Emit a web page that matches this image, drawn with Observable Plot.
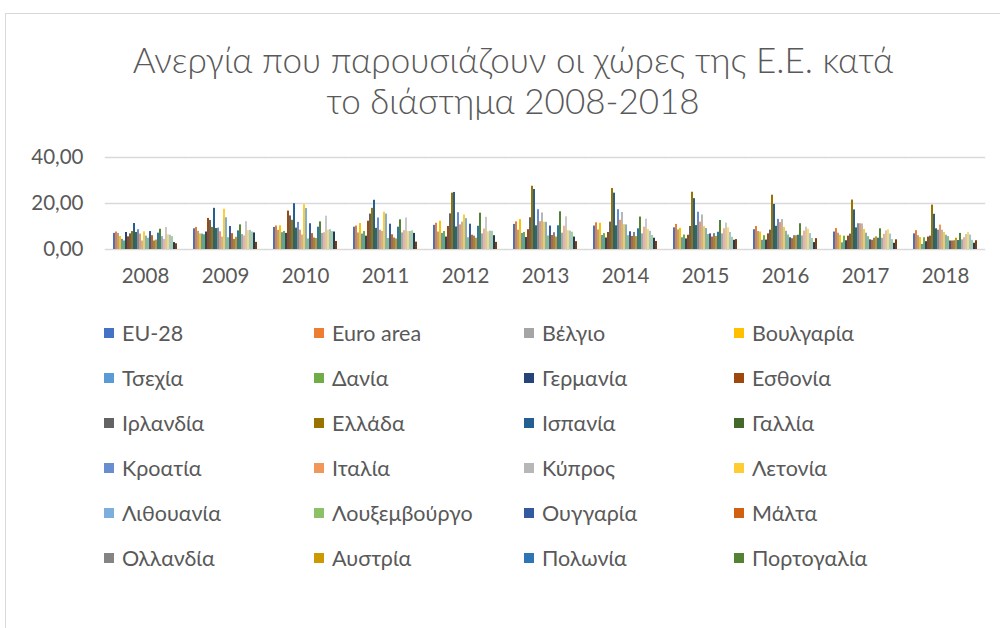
<!DOCTYPE html>
<html>
<head>
<meta charset="utf-8">
<script src="https://cdn.jsdelivr.net/npm/d3@7"></script>
<script src="https://cdn.jsdelivr.net/npm/@observablehq/plot@0.6"></script>
<style>
  html, body { margin: 0; padding: 0; background: #fff; }
  body { width: 1000px; height: 628px; overflow: hidden; position: relative; font-family: Lato, "Open Sans", sans-serif; }
  #frame { position: absolute; left: 5px; top: 13px; width: 1100px; height: 700px; border: 1px solid #d9d9d9; box-sizing: border-box; }
  #title { position: absolute; left: 13px; width: 1000px; top: 39px; text-align: center; font-size: 35px; line-height: 41px; color: #595959; font-weight: 300; }
  #chart { position: absolute; left: 0; top: 140px; }
  .item { position: absolute; font-size: 21.5px; color: #595959; white-space: nowrap; line-height: 24px; }
  .sw { position: absolute; width: 10px; height: 10px; left: -18px; top: 7px; }
</style>
</head>
<body>
<div id="frame"></div>
<div id="title">Ανεργία που παρουσιάζουν οι χώρες της Ε.Ε. κατά<br>το διάστημα 2008-2018</div>
<div id="chart"></div>
<div id="legend"></div>
<script>
const years = ["2008","2009","2010","2011","2012","2013","2014","2015","2016","2017","2018"];

const countries = [
  "EU-28","Euro area","Βέλγιο","Βουλγαρία",
  "Τσεχία","Δανία","Γερμανία","Εσθονία",
  "Ιρλανδία","Ελλάδα","Ισπανία","Γαλλία",
  "Κροατία","Ιταλία","Κύπρος","Λετονία",
  "Λιθουανία","Λουξεμβούργο","Ουγγαρία","Μάλτα",
  "Ολλανδία","Αυστρία","Πολωνία","Πορτογαλία",
  "Ρουμανία","Σλοβενία","Σλοβακία","Φινλανδία",
  "Σουηδία","Ηνωμένο Βασίλειο","Ισλανδία","Νορβηγία"
];

// legend in the reference shows only the first 24 series
const legendCount = 24;

const colors = [
  "#4472C4","#ED7D31","#A5A5A5","#FFC000",
  "#5B9BD5","#70AD47","#264478","#9E480E",
  "#636363","#997300","#255E91","#43682B",
  "#698ED0","#F1975A","#B7B7B7","#FFCD33",
  "#7CAFDD","#8CC168","#335AA1","#D26012",
  "#848484","#CC9A00","#2E75B6","#548235",
  "#8FAADC","#F4B183","#C9C9C9","#FFD966",
  "#9DC3E6","#A9D18E","#203864","#843C0C"
];

// unemployment rate (%) per country, 2008..2018
const unemployment = [
  [7.0, 9.0, 9.6, 9.7, 10.5, 10.9, 10.2, 9.4, 8.6, 7.6, 6.8],
  [7.6, 9.6, 10.2, 10.2, 11.4, 12.0, 11.6, 10.9, 10.0, 9.1, 8.2],
  [7.0, 7.9, 8.3, 7.2, 7.6, 8.4, 8.5, 8.5, 7.8, 7.1, 6.0],
  [5.6, 6.8, 10.3, 11.3, 12.3, 13.0, 11.4, 9.2, 7.6, 6.2, 5.2],
  [4.4, 6.7, 7.3, 6.7, 7.0, 7.0, 6.1, 5.1, 4.0, 2.9, 2.2],
  [3.7, 6.4, 7.8, 7.8, 7.8, 7.4, 6.9, 6.3, 6.0, 5.8, 5.1],
  [7.4, 7.6, 7.0, 5.8, 5.4, 5.2, 5.0, 4.6, 4.1, 3.8, 3.4],
  [5.5, 13.5, 16.7, 12.3, 10.0, 8.6, 7.4, 6.2, 6.8, 5.8, 5.4],
  [6.8, 12.6, 14.6, 15.4, 15.5, 13.8, 11.9, 10.0, 8.4, 6.7, 5.8],
  [7.8, 9.6, 12.7, 17.9, 24.5, 27.5, 26.5, 24.9, 23.6, 21.5, 19.3],
  [11.3, 17.9, 19.9, 21.4, 24.8, 26.1, 24.5, 22.1, 19.6, 17.2, 15.3],
  [7.4, 9.1, 9.3, 9.2, 9.8, 10.3, 10.3, 10.4, 10.1, 9.4, 9.0],
  [8.6, 9.3, 11.8, 13.7, 16.0, 17.3, 17.3, 16.2, 13.1, 11.2, 8.4],
  [6.7, 7.7, 8.4, 8.4, 10.7, 12.1, 12.7, 11.9, 11.7, 11.2, 10.6],
  [3.7, 5.4, 6.3, 7.9, 11.9, 15.9, 16.1, 15.0, 13.0, 11.1, 8.4],
  [7.7, 17.5, 19.5, 16.2, 15.0, 11.9, 10.8, 9.9, 9.6, 8.7, 7.4],
  [5.8, 13.8, 17.8, 15.4, 13.4, 11.8, 10.7, 9.1, 7.9, 7.1, 6.2],
  [4.9, 5.1, 4.6, 4.8, 5.1, 5.9, 6.0, 6.5, 6.3, 5.6, 5.6],
  [7.8, 10.0, 11.2, 11.0, 11.0, 10.2, 7.7, 6.8, 5.1, 4.2, 3.7],
  [6.0, 6.9, 6.9, 6.4, 6.2, 6.1, 5.7, 5.4, 4.7, 4.0, 3.7],
  [3.7, 4.4, 5.0, 5.0, 5.8, 7.3, 7.4, 6.9, 6.0, 4.9, 3.8],
  [4.1, 5.3, 4.8, 4.6, 4.9, 5.4, 5.6, 5.7, 6.0, 5.5, 4.9],
  [7.1, 8.1, 9.7, 9.7, 10.1, 10.3, 9.0, 7.5, 6.2, 4.9, 3.9],
  [8.8, 10.7, 12.0, 12.9, 15.8, 16.4, 14.1, 12.6, 11.2, 9.0, 7.0],
  [5.6, 6.5, 7.0, 7.2, 6.8, 7.1, 6.8, 6.8, 5.9, 4.9, 4.2],
  [4.4, 5.9, 7.3, 8.2, 8.9, 10.1, 9.7, 9.0, 8.0, 6.6, 5.1],
  [9.6, 12.1, 14.5, 13.7, 14.0, 14.2, 13.2, 11.5, 9.7, 8.1, 6.5],
  [6.4, 8.2, 8.4, 7.8, 7.7, 8.2, 8.7, 9.4, 8.8, 8.6, 7.4],
  [6.2, 8.3, 8.6, 7.8, 8.0, 8.0, 7.9, 7.4, 6.9, 6.7, 6.3],
  [5.6, 7.6, 7.8, 8.1, 7.9, 7.5, 6.1, 5.3, 4.8, 4.3, 4.0],
  [3.0, 7.2, 7.6, 7.0, 6.0, 5.4, 4.9, 4.0, 3.0, 2.7, 2.7],
  [2.5, 3.1, 3.5, 3.2, 3.1, 3.4, 3.5, 4.3, 4.7, 4.2, 3.8]
];

const yTicks = [0, 20, 40];

const data = [];
countries.forEach((c, i) => years.forEach((y, j) => data.push({year: y, country: c, value: unemployment[i][j]})));

const chart = Plot.plot({
  width: 1000,
  height: 160,
  marginLeft: 104,
  marginRight: 15,
  marginTop: 17,
  marginBottom: 51,
  style: {fontFamily: "Lato, 'Open Sans', sans-serif", fontSize: "20.5px", color: "#595959", background: "transparent", overflow: "visible"},
  fx: {domain: years, paddingInner: 0.05, paddingOuter: 0.025, label: null, axis: "bottom", tickSize: 0, tickPadding: 19},
  x: {domain: countries, padding: 0, axis: null},
  y: {domain: [0, 40], ticks: yTicks, tickFormat: d => d.toFixed(2).replace(".", ","), tickSize: 0, tickPadding: 24, label: null},
  color: {domain: countries, range: colors},
  marks: [
    Plot.ruleY(yTicks, {stroke: "#d9d9d9", strokeWidth: 1.5, insetLeft: -2.2, insetRight: -2.2}),
    Plot.barY(data, {fx: "year", x: "country", y: "value", fill: "country"})
  ]
});
document.getElementById("chart").appendChild(chart);

// legend (4 columns)
const legend = document.getElementById("legend");
const colX = [122, 332, 542, 752];
const rowY0 = 321, rowStep = 45;
countries.slice(0, legendCount).forEach((c, i) => {
  const item = document.createElement("div");
  item.className = "item";
  item.style.left = colX[i % 4] + "px";
  item.style.top = (rowY0 + Math.floor(i / 4) * rowStep) + "px";
  const sw = document.createElement("span");
  sw.className = "sw";
  sw.style.background = colors[i];
  item.appendChild(sw);
  item.appendChild(document.createTextNode(c));
  legend.appendChild(item);
});
</script>
</body>
</html>
